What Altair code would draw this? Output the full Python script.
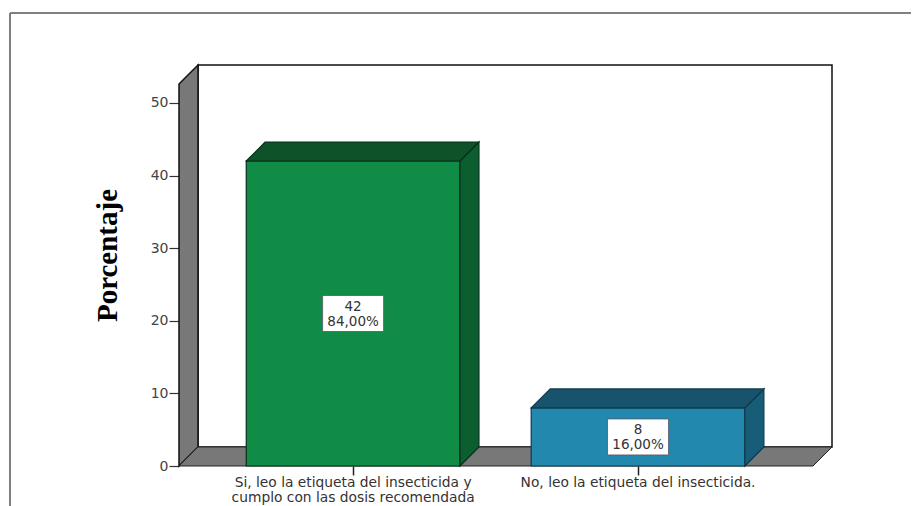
import altair as alt
import pandas as pd

categories = ["Si, leo la etiqueta del insecticida y\ncumplo con las dosis recomendada",
              "No, leo la etiqueta del insecticida."]
keys = ["si", "no"]
counts = [42, 8]
percent_labels = ["84,00%", "16,00%"]
bar_values = [42, 8]
positions = [0, 1]
y_ticks = [0, 10, 20, 30, 40, 50]

front_colors = ["#118C47", "#2288AE"]
top_colors = ["#0E5229", "#17536C"]
side_colors = ["#0B5F2E", "#175D77"]

# scale layout (axis units)
X_MIN, X_FRONT_MAX, DX = -0.611, 1.614, 0.0667
Y_FRONT_MAX, DY = 52.6, 2.62
HALF = 0.375
W, H = 653, 401

xs = alt.Scale(domain=[X_MIN, X_FRONT_MAX + DX], nice=False, zero=False)
ys = alt.Scale(domain=[0, Y_FRONT_MAX + DY], nice=False)

wall = pd.DataFrame({"x": [X_MIN + DX], "x2": [X_FRONT_MAX + DX], "y": [DY], "y2": [Y_FRONT_MAX + DY]})
back = alt.Chart(wall).mark_rect(fill="white", stroke="#111111", strokeWidth=1.5).encode(
    x=alt.X("x:Q", scale=xs, axis=alt.Axis(values=positions, labels=False, title=None, domain=False, grid=False,
                                           tickSize=9, tickColor="#222222", tickWidth=1.5)),
    x2="x2:Q",
    y=alt.Y("y:Q", scale=ys, axis=alt.Axis(values=y_ticks, title="Porcentaje", domain=False, grid=False,
                                           tickSize=10, tickColor="#333333", tickWidth=1.2,
                                           labelFont="DejaVu Sans", labelFontSize=14, labelFontWeight="normal",
                                           labelColor="#444444", labelPadding=1,
                                           titleFont="Liberation Serif", titleFontWeight="bold", titleFontSize=29,
                                           titleColor="#000000", titleX=-57, titleY=190)),
    y2="y2:Q",
)

left = pd.DataFrame({"x": [X_MIN, X_MIN + DX], "y": [0, DY], "y2": [Y_FRONT_MAX, Y_FRONT_MAX + DY]})
left_wall = alt.Chart(left).mark_area(color="#787878", stroke="#111111", strokeWidth=1.5).encode(
    x=alt.X("x:Q", scale=xs), y=alt.Y("y:Q", scale=ys, stack=None), y2="y2:Q")

floor = pd.DataFrame({"y": [0, DY], "x": [X_MIN, X_MIN + DX], "x2": [X_FRONT_MAX, X_FRONT_MAX + DX]})
floor_mark = alt.Chart(floor).mark_area(color="#787878", stroke="#222222", strokeWidth=1, orient="horizontal").encode(
    y=alt.Y("y:Q", scale=ys), x=alt.X("x:Q", scale=xs, stack=None), x2="x2:Q")

layers = [back, left_wall, floor_mark]
for i, key in enumerate(keys):
    pos, val = positions[i], bar_values[i]
    x0, x1 = pos - HALF, pos + HALF
    front = pd.DataFrame({"x": [x0], "x2": [x1], "y": [0], "y2": [val]})
    layers.append(alt.Chart(front).mark_rect(fill=front_colors[i], stroke="#08301c" if i == 0 else "#0d3a4d", strokeWidth=1.2).encode(
        x=alt.X("x:Q", scale=xs), x2="x2:Q", y=alt.Y("y:Q", scale=ys), y2="y2:Q"))
    side = pd.DataFrame({"x": [x1, x1 + DX], "y": [0, DY], "y2": [val, val + DY]})
    layers.append(alt.Chart(side).mark_area(color=side_colors[i], stroke="#08301c" if i == 0 else "#0d3a4d", strokeWidth=1.2).encode(
        x=alt.X("x:Q", scale=xs), y=alt.Y("y:Q", scale=ys, stack=None), y2="y2:Q"))
    top = pd.DataFrame({"y": [val, val + DY], "x": [x0, x0 + DX], "x2": [x1, x1 + DX]})
    layers.append(alt.Chart(top).mark_area(color=top_colors[i], stroke="#08301c" if i == 0 else "#0d3a4d", strokeWidth=1.2, orient="horizontal").encode(
        y=alt.Y("y:Q", scale=ys), x=alt.X("x:Q", scale=xs, stack=None), x2="x2:Q"))

df = pd.DataFrame({"pos": positions, "val": bar_values, "cat": categories,
                   "txt": [f"{c}\n{p}" for c, p in zip(counts, percent_labels)]})
df["mid"] = df["val"] / 2
df["zero"] = 0

boxes = alt.Chart(df).mark_rect(width=61, height=36, fill="white", stroke="#556", strokeWidth=0.8).encode(
    x=alt.X("pos:Q", scale=xs), y=alt.Y("mid:Q", scale=ys))
box_text = alt.Chart(df).mark_text(lineBreak="\n", font="DejaVu Sans", fontSize=13.5, lineHeight=15, color="#333333",
                                   baseline="middle", dy=-7).encode(
    x=alt.X("pos:Q", scale=xs), y=alt.Y("mid:Q", scale=ys), text="txt:N")
cat_text = alt.Chart(df).mark_text(lineBreak="\n", font="DejaVu Sans", fontSize=13.8, lineHeight=15, color="#333333",
                                   baseline="top", dy=10).encode(
    x=alt.X("pos:Q", scale=xs), y=alt.Y("zero:Q", scale=ys), text="cat:N")

frame_top = alt.Chart(df.head(1)).mark_rule(color="#808080", strokeWidth=2).encode(
    x=alt.value(-169), x2=alt.value(740), y=alt.value(-52))
frame_left = alt.Chart(df.head(1)).mark_rule(color="#808080", strokeWidth=2).encode(
    x=alt.value(-169), y=alt.value(-52), y2=alt.value(441))

layers += [boxes, box_text, cat_text, frame_top, frame_left]

chart = alt.layer(*layers).properties(
    width=W, height=H,
    autosize=alt.AutoSizeParams(type="none"),
    padding={"left": 171, "top": 57, "right": 79, "bottom": 40},
).configure_view(stroke=None)

chart.save("out.html", embed_options={"renderer": "svg", "actions": False})
